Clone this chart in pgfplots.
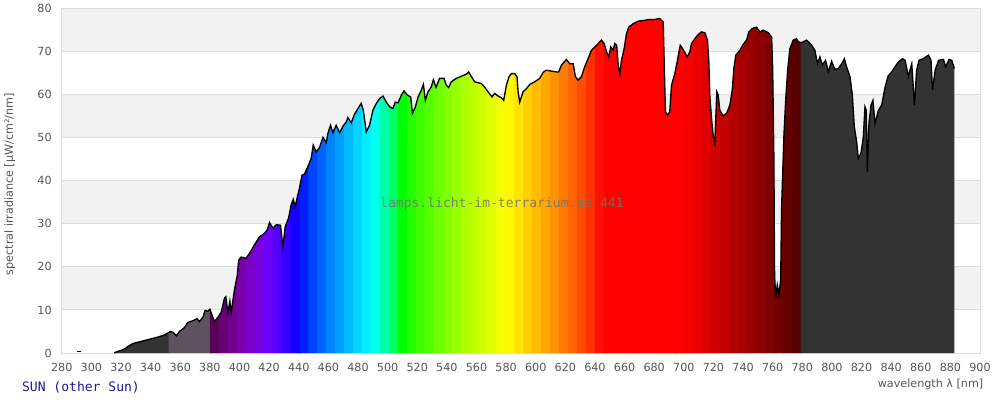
\documentclass[border=0pt]{standalone}
\usepackage{fontspec}
\setmainfont{DejaVu Sans}
\newfontfamily\monofont{DejaVu Sans Mono}
\usepackage{pgfplots}
\usepackage{pgfplotstable}
\pgfplotsset{compat=1.18}

\definecolor{bandgray}{HTML}{F2F2F2}
\definecolor{gridgray}{HTML}{DDDDDD}
\definecolor{labelgray}{HTML}{555555}
\definecolor{uvgray}{HTML}{333333}
\definecolor{uvpurple}{HTML}{5E525E}
\definecolor{sunblue}{HTML}{1A1AA0}

% sun spectrum
\pgfplotstableread{
nm val
315.5 0.0
316.5 0.2
318.9 0.5
322.3 0.9
324.6 1.5
328.0 2.2
333.6 2.7
339.2 3.2
344.9 3.7
349.3 4.2
353.4 5.0
355.2 4.8
357.4 4.0
359.5 5.0
362.8 5.9
365.1 7.1
368.5 7.5
371.4 8.0
373.0 7.3
375.3 8.3
376.8 9.9
378.6 9.7
380.0 10.2
381.4 8.9
383.1 7.3
385.4 8.3
387.6 9.4
389.9 12.8
390.8 13.1
392.2 9.3
393.5 12.0
394.4 9.4
396.6 14.7
398.5 18.0
399.5 21.6
401.1 22.3
404.5 22.0
406.8 23.2
410.1 25.1
413.5 27.0
416.9 27.8
418.7 28.6
420.3 30.3
422.6 29.0
424.8 29.8
427.7 29.7
429.3 24.7
430.9 29.4
433.1 31.3
434.9 34.4
436.3 35.7
437.6 34.0
439.0 36.2
440.5 38.3
442.2 41.3
443.9 41.6
446.2 43.3
448.4 45.2
449.8 48.3
451.8 46.7
454.1 47.8
456.4 50.1
458.6 48.9
459.7 51.0
461.5 52.9
463.1 51.2
465.3 52.9
467.6 51.2
469.9 52.7
472.1 53.7
473.2 54.7
475.5 53.5
477.7 55.5
480.0 56.8
482.2 58.0
483.6 56.4
485.6 51.4
487.8 52.9
490.1 56.4
492.4 58.0
494.6 59.1
496.9 59.7
499.1 58.3
501.4 57.2
503.6 56.8
505.2 58.3
507.0 58.1
509.3 59.9
511.1 60.9
513.4 59.9
515.6 59.5
516.8 55.7
518.8 57.2
520.6 59.5
522.8 61.1
524.2 62.4
525.5 58.7
527.3 60.7
529.5 61.8
530.9 63.5
532.7 61.7
535.1 63.8
538.1 63.8
539.7 62.2
541.2 61.7
543.0 63.0
546.4 63.8
549.8 64.3
553.2 64.8
554.7 65.3
556.6 64.2
558.8 63.0
561.1 62.8
563.3 62.6
565.5 61.8
567.8 60.7
570.5 59.5
572.3 60.3
574.6 59.7
576.8 59.3
578.4 58.7
580.2 62.2
582.0 64.2
583.6 64.9
585.8 64.9
587.4 64.2
588.1 60.7
589.2 58.3
591.5 60.7
593.7 61.4
596.0 62.4
599.3 63.0
602.7 63.8
605.0 65.2
607.2 65.7
610.6 65.5
614.0 65.3
615.5 65.3
617.4 66.9
620.7 68.2
623.0 67.2
625.3 67.2
626.8 64.2
628.6 63.4
630.9 64.2
633.1 66.5
635.4 68.4
637.6 70.3
639.9 71.1
642.2 71.9
644.4 72.7
646.2 71.9
647.8 70.0
649.3 68.8
650.7 71.1
652.3 70.3
653.4 71.9
654.7 71.5
655.7 66.9
656.8 64.7
657.9 68.0
659.7 70.7
661.3 74.2
662.8 75.7
665.8 76.5
669.2 77.1
673.6 77.3
677.0 77.5
680.4 77.5
683.8 77.7
686.1 76.9
686.8 66.9
687.6 56.0
689.0 55.3
690.5 56.0
691.7 62.2
693.9 64.9
695.7 68.0
697.6 71.5
699.6 70.5
702.3 68.8
704.1 70.0
705.2 71.9
707.4 73.0
709.7 74.0
711.9 74.6
714.2 74.4
716.0 72.7
716.9 67.6
717.6 59.5
718.7 54.5
719.9 50.2
720.9 48.7
722.3 60.7
723.2 59.9
724.3 56.4
726.6 55.1
728.9 55.7
731.1 57.6
732.7 61.1
733.8 66.1
735.1 69.2
737.8 70.3
740.1 71.7
742.4 72.7
743.9 74.6
746.2 75.4
749.1 75.7
751.4 74.6
753.7 75.0
757.1 74.4
759.3 73.4
760.0 66.1
760.8 46.0
761.3 18.2
762.0 12.8
763.1 15.8
764.2 13.5
765.4 17.0
766.0 33.6
767.6 50.6
768.7 58.3
770.1 65.7
771.6 70.7
773.9 72.7
776.1 73.0
777.3 72.3
779.5 72.1
782.9 72.7
786.3 71.5
788.5 70.3
790.3 67.2
791.9 68.8
793.5 66.9
795.7 68.0
797.6 65.3
799.8 67.8
802.0 65.9
804.3 66.1
806.6 67.2
808.4 68.4
809.9 66.5
812.2 64.2
813.8 59.9
815.1 52.6
816.7 49.1
817.8 45.2
819.6 46.4
821.2 50.2
822.3 57.2
823.2 56.4
823.9 42.1
825.0 53.3
826.4 57.6
827.7 58.7
829.1 53.3
831.4 56.4
833.6 57.6
835.9 61.8
838.1 64.5
840.4 65.3
842.6 66.5
844.9 67.6
847.6 68.4
849.4 68.0
851.6 64.2
852.7 65.7
853.9 67.2
855.7 57.6
857.2 65.7
858.8 68.0
861.8 68.4
865.2 69.2
866.9 68.0
867.9 61.1
869.7 65.7
872.0 68.0
875.3 68.2
876.8 66.5
879.1 68.2
880.9 68.0
882.7 66.1
}\spectrum

% keep the columns in macros, for finding the curve height at a band edge
\pgfplotstableforeachcolumnelement{nm}\of\spectrum\as\cell{%
  \expandafter\xdef\csname sx\pgfplotstablerow\endcsname{\cell}}
\pgfplotstableforeachcolumnelement{val}\of\spectrum\as\cell{%
  \expandafter\xdef\csname sy\pgfplotstablerow\endcsname{\cell}}

\newcount\ci
% height of the drawn line at x=#1, into macro #2
\newcommand\curveat[2]{%
  \ci=0
  \loop
    \pgfmathtruncatemacro\cflag{\csname sx\the\numexpr\ci+1\relax\endcsname<#1}%
  \ifnum\cflag=1
    \advance\ci by 1
  \repeat
  \edef\xa{\csname sx\the\ci\endcsname}\edef\ya{\csname sy\the\ci\endcsname}%
  \edef\xb{\csname sx\the\numexpr\ci+1\relax\endcsname}%
  \edef\yb{\csname sy\the\numexpr\ci+1\relax\endcsname}%
  \pgfmathsetmacro#2{\ya+(\yb-\ya)*(#1-\xa)/(\xb-\xa)}%
}

% wavelength -> rgb (0..255) in \R \G \B
\newcommand\wavergb[1]{%
  \pgfmathsetmacro\wl{#1}%
  \pgfmathsetmacro\colR{\wl<440 ? (440-\wl)/60 : (\wl<510 ? 0 : (\wl<580 ? (\wl-510)/70 : 1))}%
  \pgfmathsetmacro\colG{\wl<440 ? 0 : (\wl<490 ? (\wl-440)/50 : (\wl<580 ? 1 : (\wl<645 ? (645-\wl)/65 : 0)))}%
  \pgfmathsetmacro\colB{\wl<490 ? 1 : (\wl<510 ? (510-\wl)/20 : 0)}%
  \pgfmathsetmacro\colF{\wl<420 ? 0.3+0.7*(\wl-380)/40 : (\wl>700 ? 0.3+0.7*(780-\wl)/80 : 1)}%
  \pgfmathtruncatemacro\R{255*\colF*pow(max(\colR,0.001),0.8)+0.5}%
  \pgfmathtruncatemacro\G{255*\colF*pow(max(\colG,0.001),0.8)+0.5}%
  \pgfmathtruncatemacro\B{255*\colF*pow(max(\colB,0.001),0.8)+0.5}%
}

% area under the spectrum between lo=#1 and hi=#2, filled with colour #3
\newcommand\bandfill[3]{%
  \curveat{#1}\cL
  \curveat{#2}\cR
  \edef\doband{\noexpand\addplot[draw=none, fill={#3}] table[
      x expr={\noexpand\thisrow{nm}<#1 ? #1 : (\noexpand\thisrow{nm}>#2 ? #2 : \noexpand\thisrow{nm})},
      y expr={\noexpand\thisrow{nm}<#1 ? \cL : (\noexpand\thisrow{nm}>#2 ? \cR : \noexpand\thisrow{val})}]
    {\noexpand\spectrum} \noexpand\closedcycle;}%
  \doband
}

\begin{document}
\begin{tikzpicture}
\begin{axis}[
  at={(45pt,37.5pt)}, anchor=south west,
  scale only axis, width=690pt, height=258.75pt,
  set layers,
  xmin=280, xmax=900, ymin=0, ymax=80,
  xtick distance=20, ytick distance=10,
  major tick length=0pt,
  ymajorgrids,
  grid style={gridgray, line width=0.75pt},
  axis line style={gridgray, line width=0.75pt},
  tick label style={font=\fontsize{8.4}{10}\selectfont, text=labelgray},
  /pgf/number format/assume math mode=true,
  /pgf/number format/1000 sep={},
  xticklabel style={yshift=-4pt},
  yticklabel style={xshift=-4pt},
  xlabel={wavelength λ [nm]},
  ylabel={spectral irradiance [µW/cm²/nm]},
  label style={font=\fontsize{8.4}{10}\selectfont, text=labelgray},
  xlabel style={at={(axis description cs:1.0087,-0.0899)}, anchor=east},
  ylabel style={at={(axis description cs:-0.0565,0.49)}, anchor=center},
]
% alternating background bands
\addplot[draw=none, fill=bandgray, on layer=axis background, forget plot]
  coordinates {(280,10) (900,10) (900,20) (280,20)};
\addplot[draw=none, fill=bandgray, on layer=axis background, forget plot]
  coordinates {(280,30) (900,30) (900,40) (280,40)};
\addplot[draw=none, fill=bandgray, on layer=axis background, forget plot]
  coordinates {(280,50) (900,50) (900,60) (280,60)};
\addplot[draw=none, fill=bandgray, on layer=axis background, forget plot]
  coordinates {(280,70) (900,70) (900,80) (280,80)};

% each band overlaps the next one by 1 nm, so no seams show
\bandfill{315.5}{353.2}{uvgray}
\bandfill{352.2}{381.0}{uvpurple}
\pgfplotsinvokeforeach{0,...,65}{%
  \pgfmathsetmacro\lo{380+#1*6.044}%
  \pgfmathsetmacro\hi{\lo+6.044+1}%
  \wavergb{\lo+3}%
  \edef\bandcol{rgb,255:red,\R;green,\G;blue,\B}%
  \bandfill{\lo}{\hi}{\bandcol}%
}
\bandfill{778.9}{882.7}{uvgray}

\addplot[black, line width=1pt] table[x=nm, y=val] {\spectrum};
\addplot[black, line width=1pt] coordinates {(290,0.35) (293,0.35)};
\end{axis}

\node[font=\monofont\fontsize{9.8}{12}\selectfont, text=black!55, opacity=0.85]
  at (375.75pt,149.25pt) {lamps.licht-im-terrarium.de 441};
\node[font=\monofont\fontsize{9.8}{12}\selectfont, text=sunblue, anchor=west, inner sep=0pt]
  at (15pt,12pt) {SUN (other Sun)};
\path (0,0) rectangle (750pt,300pt);
\end{tikzpicture}
\end{document}
